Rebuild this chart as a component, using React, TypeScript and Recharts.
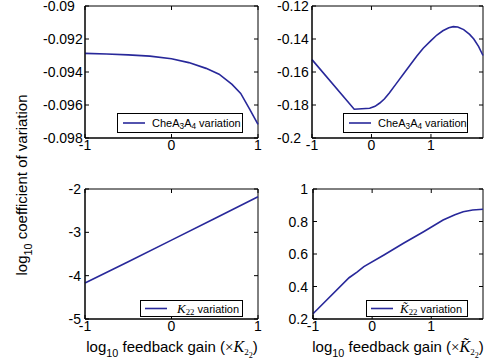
import React from "react";
import { LineChart, Line, XAxis, YAxis, Legend, ReferenceArea } from "recharts";

const FONT = '"Liberation Sans", Arial, Helvetica, sans-serif';
const SERIF = '"Liberation Serif", "Times New Roman", serif';
const BLUE = "#28289a";
const TICK = 4;
const PLOT_TOP = 6;

// top-left: CheA3A4 variation, x = log10 feedback gain (x K22)
const tlX = [-1, -0.75, -0.5, -0.25, 0, 0.2, 0.4, 0.55, 0.7, 0.8, 0.9, 1];
const tlY = [-0.09287, -0.09291, -0.09296, -0.09304, -0.0932, -0.09343, -0.09378, -0.09413, -0.09475, -0.0953, -0.09622, -0.09718];
const tlYTicks = [-0.098, -0.096, -0.094, -0.092, -0.09];
const tlYLabels = ["-0.098", "-0.096", "-0.094", "-0.092", "-0.09"];

// top-right: CheA3A4 variation, x = log10 feedback gain (x K~22)
const trX = [-1, -0.29, -0.03, 0.06, 0.14, 0.22, 0.3, 0.42, 0.55, 0.65, 0.76, 0.87, 1.0, 1.1, 1.2, 1.3, 1.375, 1.45, 1.55, 1.65, 1.72, 1.8, 1.875];
const trY = [-0.1525, -0.1826, -0.182, -0.1808, -0.1788, -0.1762, -0.1727, -0.1669, -0.1606, -0.1558, -0.1505, -0.1456, -0.141, -0.1376, -0.135, -0.1332, -0.1325, -0.1327, -0.1343, -0.1372, -0.14, -0.1445, -0.15];
const trYTicks = [-0.2, -0.18, -0.16, -0.14, -0.12];
const trYLabels = ["-0.2", "-0.18", "-0.16", "-0.14", "-0.12"];

// bottom-left: K22 variation
const blX = [-1, -0.5, 0, 0.5, 1];
const blY = [-4.17, -3.68, -3.18, -2.68, -2.18];
const blYTicks = [-5, -4, -3, -2];
const blYLabels = ["-5", "-4", "-3", "-2"];

// bottom-right: K~22 variation
const brX = [-1, -0.39, -0.25, -0.14, 0.2, 0.53, 0.87, 1.2, 1.4, 1.54, 1.7, 1.875];
const brY = [0.232, 0.454, 0.49, 0.522, 0.594, 0.666, 0.737, 0.809, 0.842, 0.86, 0.871, 0.875];
const brYTicks = [0.2, 0.4, 0.6, 0.8, 1];
const brYLabels = ["0.2", "0.4", "0.6", "0.8", "1"];

const xTicks = [-1, 0, 1];
const xLabels = ["-1", "0", "1"];

const toRows = (xs: number[], ys: number[]) => xs.map((x, i) => ({ x, y: ys[i] }));

const Sub = ({ children, size = "0.72em", drop = "0.35em" }: any) => (
  <span style={{ fontSize: size, position: "relative", top: drop }}>{children}</span>
);

const nearest = (vals: number[], v: number) => {
  let best = 0;
  vals.forEach((t, i) => {
    if (Math.abs(t - v) < Math.abs(vals[best] - v)) best = i;
  });
  return best;
};

// y tick: label plus the mirrored tick mark on the right edge of the box
const makeYTick = (vals: number[], labels: string[], anchor: "start" | "end", fixedX: number, plotRight: number) => (props: any) => {
  const { y, payload } = props;
  return (
    <g>
      <line x1={plotRight - TICK} x2={plotRight} y1={y} y2={y} stroke="#000" />
      <text x={fixedX} y={y} dy="0.36em" textAnchor={anchor} fontSize={14} fill="#000" fontFamily={FONT}>
        {labels[nearest(vals, payload.value)]}
      </text>
    </g>
  );
};

// x tick: label plus the mirrored tick mark on the top edge of the box
const xTick = (props: any) => {
  const { x, y, payload } = props;
  return (
    <g>
      <line x1={x} x2={x} y1={PLOT_TOP} y2={PLOT_TOP + TICK} stroke="#000" />
      <text x={x} y={y} dy="0.71em" textAnchor="middle" fontSize={14} fill="#000" fontFamily={FONT}>
        {xLabels[nearest(xTicks, payload.value)]}
      </text>
    </g>
  );
};

interface PanelProps {
  left: number;
  top: number;
  width: number;
  height: number;
  rows: { x: number; y: number }[];
  xDomain: [number, number];
  yDomain: [number, number];
  yTicks: number[];
  yLabels: string[];
  yAxisWidth: number;
  xAxisHeight: number;
  right: number;
  anchor: "start" | "end";
  labelX: number;
  legendBox: { left: number; top: number; width: number; height: number };
  legendText: React.ReactNode;
  lineStart: number;
  textStart: number;
}

function Panel(p: PanelProps) {
  const legendContent = () => (
    <div
      style={{
        width: p.legendBox.width,
        height: p.legendBox.height,
        boxSizing: "border-box",
        border: "1px solid #000",
        background: "#fff",
        position: "relative",
        fontFamily: FONT,
        fontSize: 11,
        color: "#000",
      }}
    >
      <svg style={{ position: "absolute", left: p.lineStart, top: 0 }} width={24} height={p.legendBox.height - 2}>
        <line x1={0} x2={22} y1={(p.legendBox.height - 2) / 2} y2={(p.legendBox.height - 2) / 2} stroke={BLUE} strokeWidth={1.6} />
      </svg>
      <div
        style={{
          position: "absolute",
          left: p.textStart,
          top: 0,
          height: p.legendBox.height - 2,
          lineHeight: `${p.legendBox.height - 2}px`,
          whiteSpace: "nowrap",
        }}
      >
        {p.legendText}
      </div>
    </div>
  );

  return (
    <div style={{ position: "absolute", left: p.left, top: p.top }}>
      <LineChart width={p.width} height={p.height} data={p.rows} margin={{ top: PLOT_TOP, right: p.right, left: 0, bottom: 0 }}>
        <XAxis
          dataKey="x"
          type="number"
          domain={p.xDomain}
          ticks={xTicks}
          interval={0}
          height={p.xAxisHeight}
          tickSize={-TICK}
          tickMargin={6}
          stroke="#000"
          tick={xTick}
        />
        <YAxis
          type="number"
          domain={p.yDomain}
          ticks={p.yTicks}
          interval={0}
          width={p.yAxisWidth}
          tickSize={-TICK}
          stroke="#000"
          tick={makeYTick(p.yTicks, p.yLabels, p.anchor, p.labelX, p.width - p.right)}
        />
        <ReferenceArea
          x1={p.xDomain[0]}
          x2={p.xDomain[1]}
          y1={p.yDomain[0]}
          y2={p.yDomain[1]}
          fill="none"
          fillOpacity={0}
          stroke="#000"
          strokeWidth={1}
        />
        <Legend
          layout="horizontal"
          verticalAlign="middle"
          align="center"
          wrapperStyle={{ left: p.legendBox.left, top: p.legendBox.top, width: p.legendBox.width, height: p.legendBox.height }}
          content={legendContent}
        />
        <Line dataKey="y" type="linear" stroke={BLUE} strokeWidth={1.6} dot={false} isAnimationActive={false} />
      </LineChart>
    </div>
  );
}

const cheText = (
  <span>
    CheA<Sub size="0.75em" drop="0.3em">3</Sub>A<Sub size="0.75em" drop="0.3em">4</Sub> variation
  </span>
);

const kText = (tilde: boolean) => (
  <span>
    <span style={{ fontFamily: SERIF, fontStyle: "italic", fontSize: 13 }}>{tilde ? "K\u0303" : "K"}</span>
    <Sub size="0.8em" drop="0.25em">
      <span style={{ fontFamily: SERIF }}>22</span>
    </Sub>{" "}
    variation
  </span>
);

const xTitle = (tilde: boolean) => (
  <span>
    log<Sub size="0.72em" drop="0.45em">10</Sub> feedback gain (
    <span style={{ fontFamily: SERIF }}>×</span>
    <span style={{ fontFamily: SERIF, fontStyle: "italic", fontSize: 16 }}>{tilde ? "K\u0303" : "K"}</span>
    <Sub size="0.6em" drop="0.35em">
      <span style={{ fontFamily: SERIF }}>
        2<Sub size="0.9em" drop="0.3em">2</Sub>
      </span>
    </Sub>
    )
  </span>
);

export default function App() {
  return (
    <div style={{ position: "relative", width: 484, height: 362, background: "#fff", fontFamily: FONT, overflow: "hidden" }}>
      <style>{"body{margin:0}"}</style>
      <Panel
        left={0}
        top={0}
        width={270}
        height={160}
        rows={toRows(tlX, tlY)}
        xDomain={[-1, 1]}
        yDomain={[-0.098, -0.09]}
        yTicks={tlYTicks}
        yLabels={tlYLabels}
        yAxisWidth={85}
        xAxisHeight={22}
        right={12}
        anchor="start"
        labelX={43}
        legendBox={{ left: 117, top: 113, width: 126, height: 20 }}
        legendText={cheText}
        lineStart={5}
        textStart={34}
      />
      <Panel
        left={240}
        top={0}
        width={244}
        height={160}
        rows={toRows(trX, trY)}
        xDomain={[-1, 1.875]}
        yDomain={[-0.2, -0.12]}
        yTicks={trYTicks}
        yLabels={trYLabels}
        yAxisWidth={72}
        xAxisHeight={22}
        right={1}
        anchor="start"
        labelX={37}
        legendBox={{ left: 103, top: 113, width: 125, height: 20 }}
        legendText={cheText}
        lineStart={5}
        textStart={34}
      />
      <Panel
        left={0}
        top={183}
        width={270}
        height={160}
        rows={toRows(blX, blY)}
        xDomain={[-1, 1]}
        yDomain={[-5, -2]}
        yTicks={blYTicks}
        yLabels={blYLabels}
        yAxisWidth={85}
        xAxisHeight={24}
        right={12}
        anchor="end"
        labelX={81}
        legendBox={{ left: 140, top: 117, width: 103, height: 17 }}
        legendText={kText(false)}
        lineStart={4}
        textStart={36}
      />
      <Panel
        left={240}
        top={183}
        width={244}
        height={160}
        rows={toRows(brX, brY)}
        xDomain={[-1, 1.875]}
        yDomain={[0.2, 1]}
        yTicks={brYTicks}
        yLabels={brYLabels}
        yAxisWidth={73}
        xAxisHeight={24}
        right={1}
        anchor="end"
        labelX={68}
        legendBox={{ left: 126, top: 117, width: 102, height: 17 }}
        legendText={kText(true)}
        lineStart={4}
        textStart={33}
      />
      <div
        style={{
          position: "absolute",
          left: 21,
          top: 185,
          transform: "translate(-50%, -50%) rotate(-90deg)",
          whiteSpace: "nowrap",
          fontSize: 15,
          color: "#000",
        }}
      >
        log<Sub size="0.72em" drop="0.45em">10</Sub> coefficient of variation
      </div>
      <div style={{ position: "absolute", left: 172, top: 338, transform: "translateX(-50%)", whiteSpace: "nowrap", fontSize: 15, color: "#000" }}>
        {xTitle(false)}
      </div>
      <div style={{ position: "absolute", left: 398, top: 338, transform: "translateX(-50%)", whiteSpace: "nowrap", fontSize: 15, color: "#000" }}>
        {xTitle(true)}
      </div>
    </div>
  );
}
